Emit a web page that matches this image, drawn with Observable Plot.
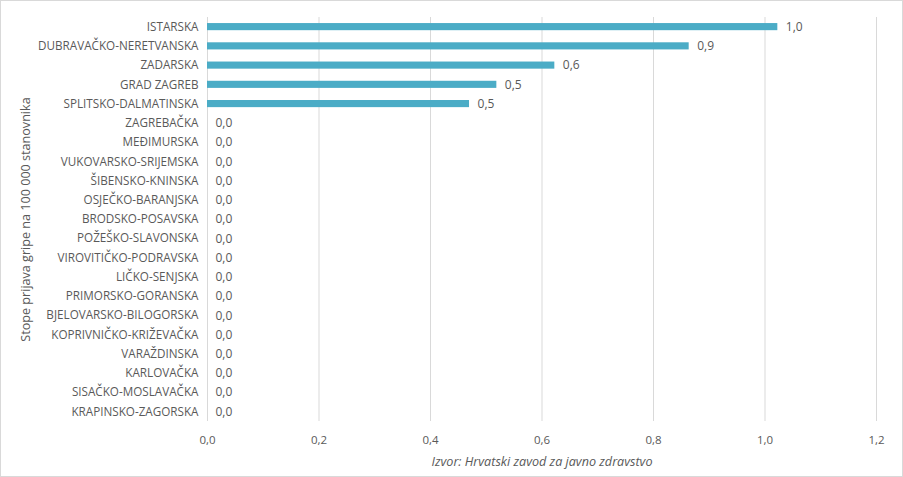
<!DOCTYPE html>
<html>
<head>
<meta charset="utf-8">
<script src="https://cdn.jsdelivr.net/npm/d3@7"></script>
<script src="https://cdn.jsdelivr.net/npm/@observablehq/plot@0.6"></script>
<style>
  html, body { margin: 0; padding: 0; background: #fff; }
  #chart { position: absolute; left: 0; top: 0; width: 901px; height: 475px; border: 1px solid #d9d9d9; }
  #chart svg { display: block; }
  g[aria-label="x-axis label"] text { font-style: italic; font-size: 12.6px; }
  g[aria-label="y-axis label"] text { font-size: 12.6px; }
</style>
</head>
<body>
<div id="chart"></div>
<script>
const counties = [
  "ISTARSKA", "DUBRAVAČKO-NERETVANSKA", "ZADARSKA", "GRAD ZAGREB", "SPLITSKO-DALMATINSKA",
  "ZAGREBAČKA", "MEĐIMURSKA", "VUKOVARSKO-SRIJEMSKA", "ŠIBENSKO-KNINSKA", "OSJEČKO-BARANJSKA",
  "BRODSKO-POSAVSKA", "POŽEŠKO-SLAVONSKA", "VIROVITIČKO-PODRAVSKA", "LIČKO-SENJSKA",
  "PRIMORSKO-GORANSKA", "BJELOVARSKO-BILOGORSKA", "KOPRIVNIČKO-KRIŽEVAČKA", "VARAŽDINSKA",
  "KARLOVAČKA", "SISAČKO-MOSLAVAČKA", "KRAPINSKO-ZAGORSKA"
];
const rates = [1.023, 0.864, 0.623, 0.519, 0.470, 0, 0, 0, 0, 0, 0, 0, 0, 0, 0, 0, 0, 0, 0, 0, 0];
const xTicks = [0, 0.2, 0.4, 0.6, 0.8, 1.0, 1.2];

const data = counties.map((c, i) => ({county: c, rate: rates[i]}));
const fmt = v => d3.format(".1f")(v).replace(".", ",");

const chart = Plot.plot({
  width: 901,
  height: 475,
  marginLeft: 206,
  marginRight: 26,
  marginTop: 16,
  marginBottom: 55,
  style: { fontFamily: "'Open Sans', sans-serif", fontSize: "11.5px", color: "#595959", background: "#fff" },
  x: { domain: [0, 1.2], ticks: xTicks, tickFormat: fmt, grid: false },
  y: { domain: counties, paddingInner: 0.63, paddingOuter: 0.315, round: false },
  marks: [
    Plot.gridX(xTicks, { stroke: "#d9d9d9", strokeOpacity: 1 }),
    Plot.barX(data, { x: "rate", y: "county", fill: "#4BACC6" }),
    Plot.text(data, { x: "rate", y: "county", text: d => fmt(d.rate), textAnchor: "start", dx: 8, fill: "#595959", fontSize: 12 }),
    Plot.axisX(xTicks, { tickFormat: fmt, tickSize: 0, tickPadding: 14, fontSize: 11.5,
      label: "Izvor: Hrvatski zavod za javno zdravstvo", labelAnchor: "center", labelArrow: "none", labelOffset: 44 }),
    Plot.axisY({ tickSize: 0, tickPadding: 9, fontSize: 11.7,
      label: "Stope prijava gripe na 100 000 stanovnika", labelAnchor: "center", labelArrow: "none", labelOffset: 186 })
  ]
});
document.getElementById("chart").appendChild(chart);
</script>
</body>
</html>
